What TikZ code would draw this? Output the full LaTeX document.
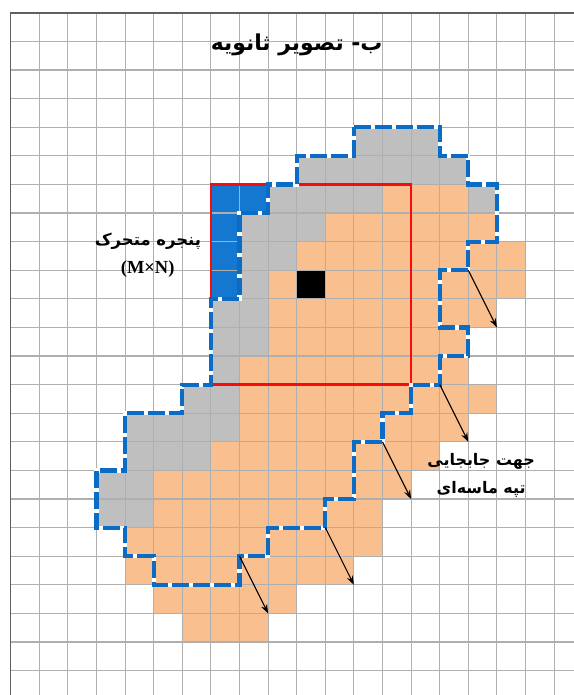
\documentclass[tikz,border=0pt]{standalone}
\usepackage{fontspec}
\newfontfamily\arabicfont[Script=Arabic]{DejaVu Sans}
\newfontfamily\latinfont{Liberation Serif}
\TeXXeTstate=1
\usetikzlibrary{arrows.meta}
\definecolor{gridgray}{RGB}{175,175,175}
\definecolor{framegray}{RGB}{95,95,95}
\definecolor{oldgray}{RGB}{191,191,191}
\definecolor{neworange}{RGB}{249,191,143}
\definecolor{winblue}{RGB}{20,120,208}
\definecolor{dashblue}{RGB}{10,108,196}
\definecolor{winred}{RGB}{250,10,10}
\tikzset{
  gridline/.style={draw=gridgray, line width=1.1bp},
  frameline/.style={draw=framegray, line width=1.6bp},
  graycell/.style={fill=oldgray},
  orangecell/.style={fill=neworange},
  bluecell/.style={fill=winblue},
  centercell/.style={fill=black},
  windowbox/.style={draw=winred, line width=2.6bp},
  oldunder/.style={draw=white, line width=4.2bp, line join=miter},
  oldoutline/.style={draw=dashblue, line width=4.2bp, line join=miter, dash pattern=on 17bp off 4bp},
  movearrow/.style={draw=black, line width=1.1bp, -{Stealth[length=9bp,width=6.5bp]}},
  titletext/.style={font=\fontsize{22}{25}\arabicfont\bfseries, inner sep=0pt},
  winlabeltext/.style={font=\fontsize{16.5}{19}\arabicfont\bfseries, inner sep=0pt},
  sizetext/.style={font=\fontsize{18.5}{20}\latinfont\bfseries, inner sep=0pt},
  dirlabeltext/.style={font=\fontsize{16}{19}\arabicfont\bfseries, inner sep=0pt}
}
\begin{document}
\begin{tikzpicture}[x=28.6bp, y=-28.6bp]
\fill[white] (-0.374,-0.4476) rectangle (19.696,23.853);
\useasboundingbox (-0.374,-0.4476) rectangle (19.696,23.853);
% gray cells: old shape minus new shape
\foreach \r/\a/\b in {4/12/14, 5/10/15, 6/9/12, 6/16/16, 7/8/10, 8/8/9, 9/8/8, 10/7/8, 11/7/8, 12/7/7, 13/6/7, 14/4/7, 15/4/6, 16/3/4, 17/3/4}
  \fill[graycell] (\a,\r) rectangle (\b+1,\r+1);
% orange cells: new shape
\foreach \r/\a/\b in {6/13/15, 7/11/16, 8/10/17, 9/9/17, 10/9/16, 11/9/15, 12/8/15, 13/8/16, 14/8/15, 15/7/14, 16/5/13, 17/5/12, 18/4/12, 19/4/11, 20/5/9, 21/6/8}
  \fill[orangecell] (\a,\r) rectangle (\b+1,\r+1);
% blue cells
\foreach \c/\r in {7/6, 8/6, 7/7, 7/8, 7/9}
  \fill[bluecell] (\c,\r) rectangle (\c+1,\r+1);
\fill[centercell] (10,9) rectangle (11,10);
% grid
\foreach \i in {0,...,19} \draw[gridline] (\i,0) -- (\i,23.853);
\foreach \j in {0,...,23} \draw[gridline] (0,\j) -- (19.696,\j);
\draw[frameline] (0,23.853) -- (0,0) -- (19.696,0);
% moving window
\draw[windowbox] (7,6) rectangle (14,13);
% old outline
\def\oldpath{(12,4) -- (15,4) -- (15,5) -- (16,5) -- (16,6) -- (17,6) -- (17,8) -- (16,8) -- (16,9) -- (15,9) -- (15,11) -- (16,11) -- (16,12) -- (15,12) -- (15,13) -- (14,13) -- (14,14) -- (13,14) -- (13,15) -- (12,15) -- (12,17) -- (11,17) -- (11,18) -- (9,18) -- (9,19) -- (8,19) -- (8,20) -- (5,20) -- (5,19) -- (4,19) -- (4,18) -- (3,18) -- (3,16) -- (4,16) -- (4,14) -- (6,14) -- (6,13) -- (7,13) -- (7,10) -- (8,10) -- (8,7) -- (9,7) -- (9,6) -- (10,6) -- (10,5) -- (12,5) -- cycle}
\draw[oldunder] \oldpath;
\draw[oldoutline] \oldpath;
% arrows
\coordinate (s1) at (16,9);  \coordinate (t1) at (17,11);
\coordinate (s2) at (15,13); \coordinate (t2) at (16,15);
\coordinate (s3) at (13,15); \coordinate (t3) at (14,17);
\coordinate (s4) at (11,18); \coordinate (t4) at (12,20);
\coordinate (s5) at (8,19);  \coordinate (t5) at (9,21);
\foreach \k in {1,...,5} \draw[movearrow] (s\k) -- (t\k);
% labels
\node[titletext] (title) at (10,1.12) {\beginR ب- تصویر ثانویه\endR};
\node[winlabeltext] (winlabel) at (4.8,8.0) {\beginR پنجره متحرک\endR};
\node[sizetext] (winsize) at (4.79,8.97) {(M×N)};
\node[dirlabeltext] (dirlabel) at (16.45,15.7) {\beginR جهت جابجایی\endR};
\node[dirlabeltext] (dirlabel2) at (16.45,16.65) {\beginR تپه ماسه‌ای\endR};
\end{tikzpicture}
\end{document}
